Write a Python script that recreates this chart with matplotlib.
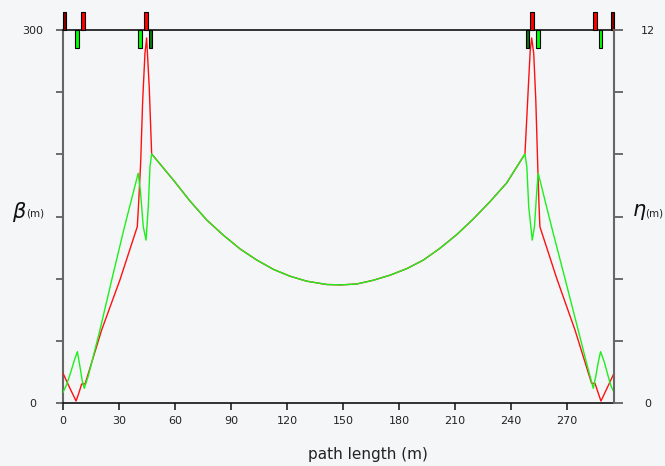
import matplotlib
matplotlib.use('Agg')
import matplotlib.pyplot as plt

# beta functions (s in m, beta in m)
# long straight in the middle: both planes sit on the same curve
s_mid = [59.1, 68.0, 77.0, 85.9, 94.8, 103.8, 112.7, 121.6, 130.5, 141.3, 148.9,
         157.3, 166.2, 175.2, 184.1, 193.1, 202.0, 211.0, 219.8, 228.8, 237.7]
beta_mid = [179.4, 162.5, 147.2, 135.0, 124.0, 115.0, 107.5, 102.0, 98.0, 95.3, 95.0,
            95.7, 98.7, 102.8, 108.0, 115.0, 124.5, 135.5, 148.0, 162.0, 177.0]

s_red_left = [0, 3.5, 7.0, 8.5, 10.0, 11.8, 13.6, 20.7, 30.5, 39.8, 40.5, 41.6,
              42.7, 43.9, 44.8, 46.2, 47.5]
beta_red_left = [23.9, 12.5, 1.6, 8.0, 15.3, 15.3, 23.9, 58.7, 99.0, 141.8, 160.0, 193.0,
                 243.7, 281.0, 293.6, 254.0, 200.3]
s_red_right = [247.5, 249.3, 250.3, 251.1, 252.2, 253.3, 254.3, 255.0, 255.5, 264.5,
               274.3, 283.2, 285.0, 288.2, 291.5, 295.2]
beta_red_right = [200.3, 254.0, 283.0, 293.6, 281.0, 243.7, 193.0, 160.0, 141.8, 100.3,
                  58.7, 15.8, 15.8, 1.6, 12.0, 23.9]

s_green_left = [0, 2.0, 4.0, 6.0, 7.7, 9.0, 10.3, 11.4, 13.6, 19.8, 26.1, 33.0, 40.3,
                41.5, 43.0, 44.5, 45.7, 46.6, 47.5]
beta_green_left = [8.6, 15.0, 24.0, 34.0, 41.3, 30.0, 18.0, 11.8, 22.0, 58.7, 99.0, 142.0, 184.8,
                   170.0, 141.8, 131.0, 158.0, 190.0, 200.3]
s_green_right = [247.5, 248.5, 249.5, 251.4, 252.6, 253.8, 254.6, 261.7, 268.9, 276.0,
                 280.0, 284.1, 285.5, 286.8, 288.0, 290.0, 292.0, 293.5, 295.2]
beta_green_right = [200.3, 190.0, 158.0, 131.0, 142.0, 170.0, 184.8, 142.0, 100.3, 58.7,
                    35.0, 11.8, 22.0, 33.0, 41.3, 33.0, 22.0, 14.0, 8.6]

# magnets along the top line: start (m), length (m), colour
red_mag_start = [0, 9.5, 43.6, 250.2, 284.1, 293.7]
red_mag_len = [1.6, 2.1, 1.8, 1.9, 2.2, 1.5]
red_mag_col = ['#8a0000', '#ff0000', '#ff0000', '#ff0000', '#ff0000', '#8a0000']
green_mag_start = [6.6, 40.3, 46.2, 247.9, 253.3, 287.3]
green_mag_len = [2.1, 2.2, 1.6, 1.7, 2.1, 1.6]
green_mag_col = ['#00ff00', '#00ff00', '#0a7a0a', '#0a7a0a', '#00ff00', '#00ff00']

bg = '#f5f6f8'
fig = plt.figure(figsize=(6.65, 4.66), dpi=100, facecolor=bg)
ax = fig.add_axes([63 / 665, 63 / 466, 551 / 665, 373 / 466])
ax.set_facecolor(bg)

s_red = s_red_left + s_mid + s_red_right
beta_red = beta_red_left + beta_mid + beta_red_right
s_green = s_green_left + s_mid + s_green_right
beta_green = beta_green_left + beta_mid + beta_green_right

ax.plot(s_red, beta_red, color='#ff1010', lw=1.0, zorder=3)
ax.plot(s_green, beta_green, color='#1cf01c', lw=1.0, zorder=4)

ax.bar(red_mag_start, 14.2, width=red_mag_len, bottom=300, align='edge',
       color=red_mag_col, edgecolor='black', linewidth=0.8, clip_on=False, zorder=5)
ax.bar(green_mag_start, -14.5, width=green_mag_len, bottom=300, align='edge',
       color=green_mag_col, edgecolor='black', linewidth=0.8, clip_on=False, zorder=5)

ax.set_xlim(0, 295.2)
ax.set_ylim(0, 300)
ax.set_xticks(range(0, 271, 30))
ax.set_yticks(range(0, 301, 50))
ax.set_yticklabels(['0', '', '', '', '', '', '300'])
ax.tick_params(axis='x', length=5, width=1.2, color='#222222', labelsize=8,
               labelcolor='#222222', pad=4)
ax.tick_params(axis='y', length=5, width=1.2, color='#555555', labelsize=8,
               labelcolor='#222222', pad=16.5)
for lab in ax.get_yticklabels():
    lab.set_ha('center')

for side in ['top', 'bottom']:
    ax.spines[side].set_color('#111111')
    ax.spines[side].set_linewidth(1.2)
ax.spines['left'].set_color('#666666')
ax.spines['left'].set_linewidth(1.5)
ax.spines['right'].set_visible(False)

ax2 = ax.twinx()
ax2.set_ylim(0, 12)
ax2.set_yticks(range(0, 13, 2))
ax2.set_yticklabels(['0', '', '', '', '', '', '12'])
ax2.tick_params(axis='y', length=6.5, width=1.2, color='#555555', labelsize=8,
                labelcolor='#222222', pad=18)
for lab in ax2.get_yticklabels():
    lab.set_ha('center')
for side in ['top', 'bottom', 'left']:
    ax2.spines[side].set_visible(False)
ax2.spines['right'].set_color('#666666')
ax2.spines['right'].set_linewidth(1.5)

fig.text(12 / 665, 1 - 212 / 466, '$\\beta$', fontsize=15, color='#111111', va='center')
fig.text(26 / 665, 1 - 214 / 466, '(m)', fontsize=7.5, color='#222222', va='center')
fig.text(632 / 665, 1 - 212 / 466, '$\\eta$', fontsize=15, color='#111111', va='center')
fig.text(645 / 665, 1 - 214 / 466, '(m)', fontsize=7.5, color='#222222', va='center')
fig.text(368 / 665, 1 - 455 / 466, 'path length (m)', fontsize=11, color='#222222',
         ha='center', va='center')

fig.savefig('out.png', dpi=100, facecolor=bg)
